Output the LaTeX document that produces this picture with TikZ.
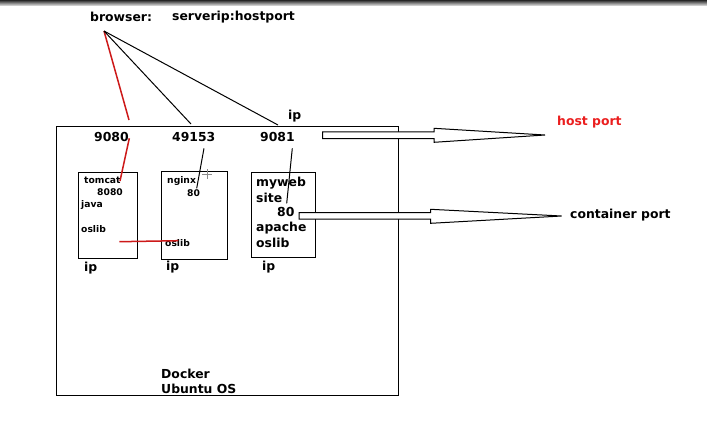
\documentclass[tikz,border=0pt]{standalone}
\usepackage{fontspec}
\setmainfont{DejaVu Sans}
\begin{document}
\begin{tikzpicture}[x=1pt,y=-1pt,
  lbl/.style={font=\bfseries\fontsize{12.4}{13}\selectfont,anchor=west,inner sep=0pt},
  sml/.style={font=\bfseries\fontsize{9.2}{10}\selectfont,anchor=west,inner sep=0pt},
  cbox/.style={draw=black,line width=1.2pt},
  wire/.style={draw=black,line width=1pt},
  redwire/.style={draw=redl,line width=1.5pt},
  fatarrow/.style={draw=black,line width=1pt,fill=white}]
\definecolor{redl}{RGB}{205,25,25}
\definecolor{redt}{RGB}{235,30,30}
\useasboundingbox (0,0) rectangle (707,440);
\fill[white] (0,0) rectangle (707,440);
\shade[top color=black!85,bottom color=black!20] (0,0) rectangle (707,5);

% Docker host box
\node[cbox,minimum width=342pt,minimum height=269pt,anchor=north west,inner sep=0pt] (docker) at (56,126) {};
\node[lbl] (dk1) at (161,374) {Docker};
\node[lbl] (dk2) at (161,389) {Ubuntu OS};

% top labels
\node[lbl] (browser) at (90,17) {browser:};
\node[lbl] (server) at (172,17) {serverip:hostport};
\coordinate (br) at (104,31);
\node[lbl] (iptop) at (288,116) {ip};

% host ports
\node[lbl] (p9080) at (94,137) {9080};
\node[lbl] (p49153) at (172,137) {49153};
\node[lbl] (p9081) at (260,137) {9081};

% container boxes
\node[cbox,minimum width=59pt,minimum height=86pt,anchor=north west,inner sep=0pt] (tomcatbox) at (78,172) {};
\node[cbox,minimum width=66pt,minimum height=88pt,anchor=north west,inner sep=0pt] (nginxbox) at (161,171) {};
\node[cbox,minimum width=64pt,minimum height=85pt,anchor=north west,inner sep=0pt] (mywebbox) at (251,172) {};

% tomcat box text
\node[sml] (tomcat) at (84,180) {tomcat};
\node[sml] (t8080) at (97,192) {8080};
\node[sml] (java) at (81,205) {java};
\node[sml] (oslib1) at (81,229) {oslib};
% nginx box text
\node[sml] (nginx) at (167,181) {nginx};
\node[sml] (n80) at (187,193) {80};
\node[sml] (oslib2) at (165,243) {oslib};
% myweb box text
\node[lbl] (myweb) at (256,183) {myweb};
\node[lbl] (site) at (256,198) {site};
\node[lbl] (m80) at (277,212) {80};
\node[lbl] (apache) at (256,228) {apache};
\node[lbl] (oslib3) at (256,243) {oslib};

% ip labels
\node[lbl] (ip1) at (84,268) {ip};
\node[lbl] (ip2) at (166,267) {ip};
\node[lbl] (ip3) at (262,267) {ip};

% cursor plus
\draw[black!45,line width=0.6pt] (202,174) -- (212,174) (207,169) -- (207,179);

% browser lines
\coordinate (e1) at (129,120);
\coordinate (e2) at (191,124);
\coordinate (e3) at (278,125);
\draw[redwire] (br) -- (e1);
\draw[wire] (br) -- (e2);
\draw[wire] (br) -- (e3);

% inner mapping lines
\coordinate (r1a) at (129.3,138.3);
\coordinate (r1b) at (120,181);
\draw[redwire] (r1a) -- (r1b);
\coordinate (r2a) at (119.3,241.7);
\coordinate (r2b) at (178.3,240.7);
\draw[redwire] (r2a) -- (r2b);
\coordinate (b1a) at (204,148.3);
\coordinate (b1b) at (196.7,188.3);
\draw[wire] (b1a) -- (b1b);
\coordinate (b2a) at (292.3,148.3);
\coordinate (b2b) at (286.7,203.3);
\draw[wire] (b2a) -- (b2b);

% big arrows
\draw[fatarrow] (322.5,131.8) -- (434,131.8) -- (434,128.3) -- (545,135) -- (434,142.3) -- (434,138.6) -- (322.5,138.6) -- cycle;
\draw[fatarrow] (299,212.7) -- (430.7,212.7) -- (430.7,209.3) -- (561.7,216) -- (430.7,223.3) -- (430.7,219.2) -- (299,219.2) -- cycle;
\node[lbl,text=redt] (hostport) at (557,122) {host port};
\node[lbl] (contport) at (570,215) {container port};
\end{tikzpicture}
\end{document}
